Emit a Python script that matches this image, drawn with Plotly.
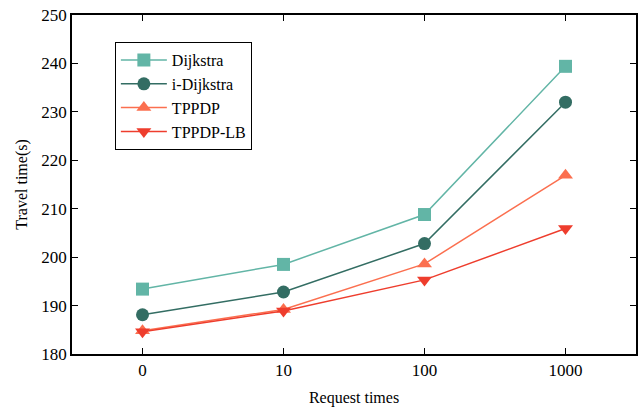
import plotly.graph_objects as go

categories = ["0", "10", "100", "1000"]
dijkstra = [193.4, 198.5, 208.8, 239.4]
i_dijkstra = [188.1, 192.8, 202.8, 232.0]
tppdp = [184.8, 189.2, 198.6, 216.9]
tppdp_lb = [184.6, 188.9, 195.3, 205.9]

series = [
    ("Dijkstra", dijkstra, "#62b5a6", "square"),
    ("i-Dijkstra", i_dijkstra, "#336d63", "circle"),
    ("TPPDP", tppdp, "#fb6f4f", "triangle-up"),
    ("TPPDP-LB", tppdp_lb, "#ee3d2d", "triangle-down"),
]

fig = go.Figure()
for name, vals, color, sym in series:
    fig.add_trace(go.Scatter(
        x=categories, y=vals, name=name, mode="lines+markers",
        line=dict(color=color, width=1.5),
        marker=dict(symbol=sym, size=13, color=color),
    ))

font = "'Liberation Serif', 'Times New Roman', 'DejaVu Serif', serif"
fig.update_layout(
    width=644, height=407,
    margin=dict(l=72, r=8, t=15, b=53, autoexpand=False),
    plot_bgcolor="white", paper_bgcolor="white",
    font=dict(family=font, size=17, color="black"),
    showlegend=True,
    legend=dict(x=0.076, y=0.92, xanchor="left", yanchor="top",
                bordercolor="black", borderwidth=1, bgcolor="white",
                font=dict(size=16, family=font), itemwidth=46,
                tracegroupgap=0),
    xaxis=dict(type="category", range=[-0.5, 3.5], showline=True, linecolor="black",
               linewidth=1.5, mirror="ticks", ticks="inside", ticklen=6,
               tickcolor="black", showgrid=False, zeroline=False, automargin=False,
               title=dict(text="Request times", font=dict(size=16), standoff=13)),
    yaxis=dict(range=[180, 250], dtick=10, showline=True, linecolor="black",
               linewidth=1.5, mirror="ticks", ticks="inside", ticklen=6,
               tickcolor="black", showgrid=False, zeroline=False, automargin=False,
               title=dict(text="Travel time(s)", font=dict(size=16), standoff=10)),
)

fig.write_html("out.html", config={"displayModeBar": False},
               post_script="document.body.style.margin='0px';")
